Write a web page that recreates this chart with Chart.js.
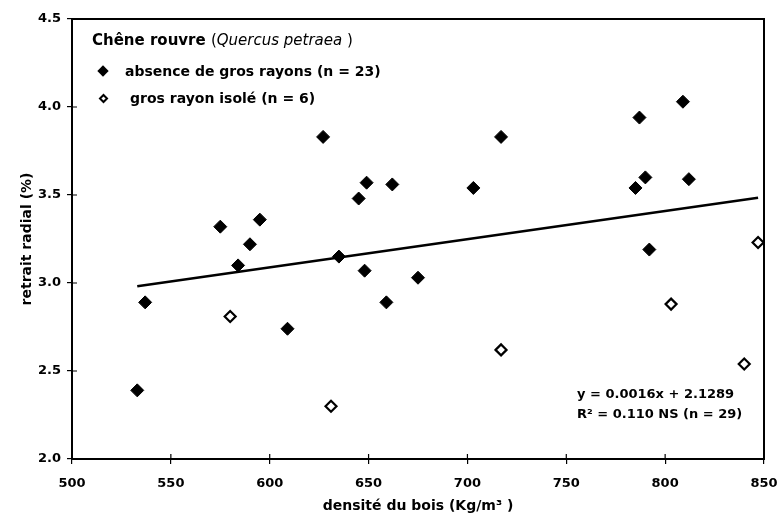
<!DOCTYPE html>
<html>
<head>
<meta charset="utf-8">
<script src="https://cdn.jsdelivr.net/npm/chart.js@4.4.1/dist/chart.umd.min.js"></script>
<style>
html,body{margin:0;padding:0;background:#fff;}
#wrap{position:relative;width:778px;height:522px;overflow:hidden;}
#c{position:absolute;left:0;top:0;}
.t{position:absolute;font-family:'DejaVu Sans',sans-serif;color:#000;white-space:nowrap;font-weight:bold;}
.it{font-style:italic;font-weight:normal;}
.rg{font-weight:normal;}
.dia{position:absolute;width:8px;height:8px;transform:rotate(45deg);box-sizing:border-box;}
.dia.f{background:#000;}
.dia.o{background:#fff;border:2px solid #000;width:7px;height:7px;}
</style>
</head>
<body>
<div id="wrap">
<canvas id="c" width="778" height="522"></canvas>
<div class="t" style="left:92px;top:31px;font-size:15px;line-height:18px;">Chêne rouvre <span class="rg">(</span><span class="it">Quercus petraea</span><span class="rg"> )</span></div>
<div class="dia f" style="left:99px;top:67px;"></div>
<div class="t" style="left:125px;top:62px;font-size:14px;line-height:18px;">absence de gros rayons (n = 23)</div>
<div class="dia o" style="left:99.5px;top:94.5px;"></div>
<div class="t" style="left:130px;top:89px;font-size:14px;line-height:18px;">gros rayon isolé (n = 6)</div>
<div class="t" style="left:577px;top:384px;font-size:13px;line-height:20px;">y = 0.0016x + 2.1289<br>R² = 0.110 NS (n = 29)</div>
</div>
<script>
// ---- data ----
const filledX = [533, 537, 575, 584, 590, 595, 609, 627, 635, 645, 649, 648, 659, 662, 675, 703, 717, 787, 790, 785, 812, 809, 792];
const filledY = [2.39, 2.89, 3.32, 3.10, 3.22, 3.36, 2.74, 3.83, 3.15, 3.48, 3.57, 3.07, 2.89, 3.56, 3.03, 3.54, 3.83, 3.94, 3.60, 3.54, 3.59, 4.03, 3.19];
const openX = [580, 631, 717, 803, 847, 840];
const openY = [2.81, 2.30, 2.62, 2.88, 3.23, 2.54];
const fitSlope = 0.0016;
const fitIntercept = 2.1289;
const xTickValues = [500, 550, 600, 650, 700, 750, 800, 850];
const yTickValues = [2.0, 2.5, 3.0, 3.5, 4.0, 4.5];
const seriesNames = ['absence de gros rayons (n = 23)', 'gros rayon isolé (n = 6)', 'régression'];

const allX = filledX.concat(openX);
const xMinData = Math.min(...allX), xMaxData = Math.max(...allX);
const fitLine = [xMinData, xMaxData].map(x => ({x: x, y: fitIntercept + fitSlope * x}));
const toPts = (xs, ys) => xs.map((x, i) => ({x: x, y: ys[i]}));

const FONT = "'DejaVu Sans', sans-serif";

const framePlugin = {
  id: 'frame',
  afterDraw(chart) {
    const {ctx, chartArea: a, scales} = chart;
    ctx.save();
    ctx.strokeStyle = '#000';
    ctx.lineWidth = 2;
    ctx.strokeRect(a.left, a.top, a.right - a.left, a.bottom - a.top);
    ctx.lineWidth = 1.2;
    ctx.beginPath();
    scales.x.ticks.forEach(t => {
      const px = scales.x.getPixelForValue(t.value);
      ctx.moveTo(px, a.bottom); ctx.lineTo(px, a.bottom - 5);
    });
    scales.y.ticks.forEach(t => {
      const py = scales.y.getPixelForValue(t.value);
      ctx.moveTo(a.left, py); ctx.lineTo(a.left + 5, py);
    });
    ctx.stroke();
    ctx.restore();
  }
};

new Chart(document.getElementById('c'), {
  type: 'scatter',
  data: {
    datasets: [
      {
        label: seriesNames[0],
        data: toPts(filledX, filledY),
        pointStyle: 'rectRot',
        pointRadius: 6.5,
        backgroundColor: '#000',
        borderColor: '#000',
        borderWidth: 1,
        clip: false
      },
      {
        label: seriesNames[1],
        data: toPts(openX, openY),
        pointStyle: 'rectRot',
        pointRadius: 5.5,
        backgroundColor: '#fff',
        borderColor: '#000',
        borderWidth: 2.2,
        clip: false
      },
      {
        type: 'line',
        label: seriesNames[2],
        data: fitLine,
        borderColor: '#000',
        borderWidth: 2.6,
        pointRadius: 0,
        fill: false,
        order: 5
      }
    ]
  },
  options: {
    responsive: false,
    animation: false,
    devicePixelRatio: 1,
    layout: {padding: {top: 19, right: 14, left: 0, bottom: 0}},
    plugins: {legend: {display: false}, tooltip: {enabled: false}},
    scales: {
      x: {
        type: 'linear',
        min: 500, max: 850,
        afterBuildTicks(scale) { scale.ticks = xTickValues.map(v => ({value: v})); },
        afterFit(scale) { scale.height = 63; scale.paddingLeft = 0; scale.paddingRight = 0; },
        grid: {drawOnChartArea: false, drawTicks: true, tickLength: 5, color: '#000', lineWidth: 1.2},
        border: {display: true, color: '#000', width: 2},
        ticks: {
          color: '#000', padding: 12,
          font: {family: FONT, size: 13, weight: 'bold'},
          callback: v => String(v)
        },
        title: {
          display: true,
          text: 'densité du bois (Kg/m³ )',
          color: '#000',
          font: {family: FONT, size: 14, weight: 'bold'},
          padding: {top: 0, bottom: 7}
        }
      },
      y: {
        type: 'linear',
        min: 2.0, max: 4.5,
        afterBuildTicks(scale) { scale.ticks = yTickValues.map(v => ({value: v})); },
        afterFit(scale) { scale.width = 72; scale.paddingTop = 0; scale.paddingBottom = 0; },
        grid: {drawOnChartArea: false, drawTicks: true, tickLength: 5, color: '#000', lineWidth: 1.2},
        border: {display: true, color: '#000', width: 2},
        ticks: {
          color: '#000', padding: 6,
          font: {family: FONT, size: 13, weight: 'bold'},
          callback: v => Number(v).toFixed(1)
        },
        title: {
          display: true,
          text: 'retrait radial (%)',
          color: '#000',
          font: {family: FONT, size: 14, weight: 'bold'},
          padding: {top: 19, bottom: 0}
        }
      }
    }
  },
  plugins: [framePlugin]
});
</script>
</body>
</html>
